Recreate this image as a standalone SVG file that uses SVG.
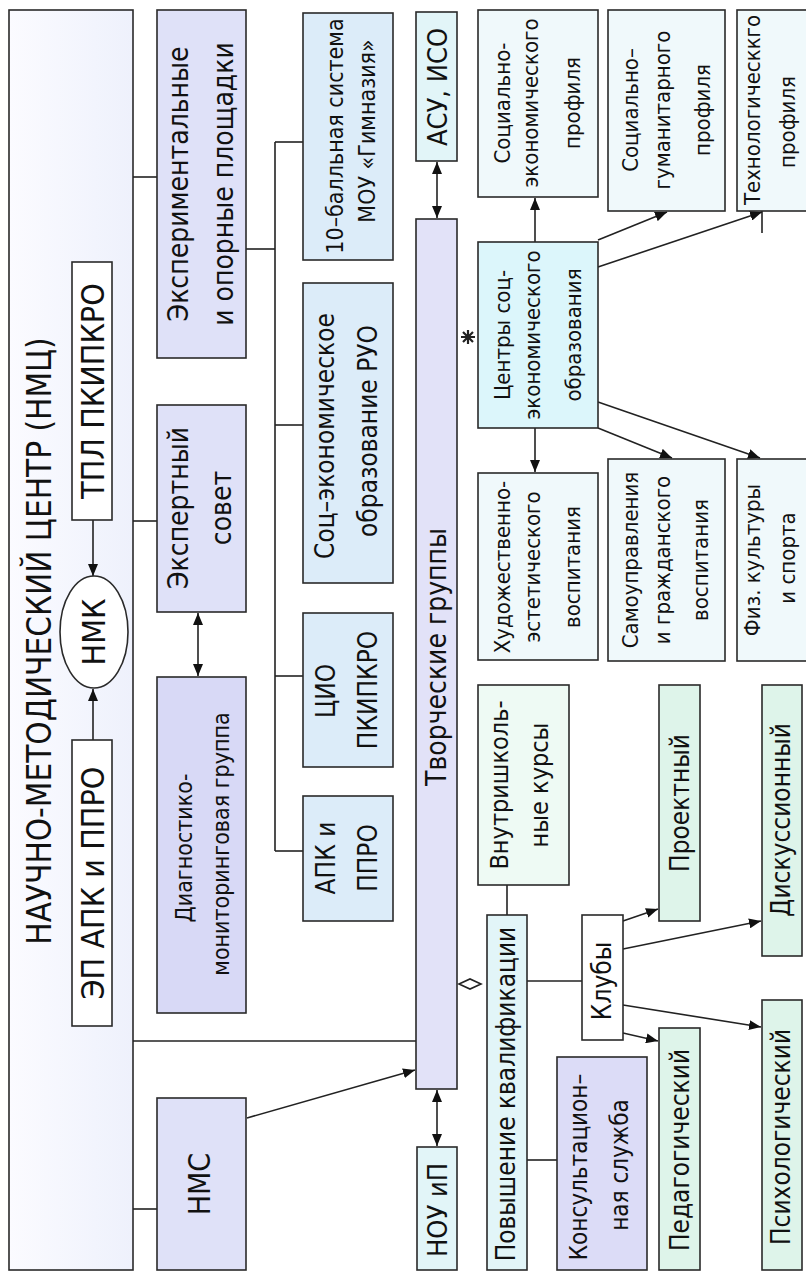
<svg xmlns="http://www.w3.org/2000/svg" width="806" height="1273" viewBox="0 0 806 1273">
<style>
.b{stroke:#2a2a2a;stroke-width:1.6}
.c{stroke:#222;stroke-width:1.6;fill:none}
.t{font-family:'DejaVu Sans Condensed','DejaVu Sans',sans-serif;text-anchor:middle;fill:#111}
.lav{fill:#dfe1f8}.dlav{fill:#d8d9f6}.lb{fill:#dcecf9}.cy{fill:#e2f5f8}.pl{fill:#f0f9fb}.cen{fill:#dcf6fb}.gr{fill:#def4ea}.lg{fill:#eefaf4}.wh{fill:#ffffff}
</style>
<defs>
<linearGradient id="g1" x1="0" y1="0" x2="1" y2="0"><stop offset="0" stop-color="#fbfbff"/><stop offset="1" stop-color="#eef1fc"/></linearGradient>
<marker id="ah" viewBox="0 0 12 10" refX="12" refY="5" markerWidth="12" markerHeight="10" markerUnits="userSpaceOnUse" orient="auto-start-reverse"><path d="M0,0L12,5L0,10z" fill="#111"/></marker>
</defs>
<rect width="806" height="1273" fill="#fff"/>
<g id="nmc"><rect class="b" x="9" y="10" width="124" height="1260" fill="url(#g1)"/>
<text class="t" font-size="33" transform="translate(51,641) rotate(-90)">НАУЧНО-МЕТОДИЧЕСКИЙ ЦЕНТР (НМЦ)</text></g>
<g id="connectors">
<line class="c" x1="133" y1="177" x2="157" y2="177"/>
<line class="c" x1="133" y1="521" x2="157" y2="521"/>
<line class="c" x1="133" y1="1041" x2="416" y2="1041"/>
<line class="c" x1="133" y1="1209" x2="157" y2="1209"/>
<line class="c" x1="246" y1="249" x2="275" y2="249"/>
<line class="c" x1="275" y1="142" x2="275" y2="851"/>
<line class="c" x1="275" y1="142" x2="303" y2="142"/>
<line class="c" x1="275" y1="425" x2="303" y2="425"/>
<line class="c" x1="275" y1="676" x2="303" y2="676"/>
<line class="c" x1="275" y1="851" x2="303" y2="851"/>
<line class="c" x1="507" y1="915" x2="507" y2="885"/>
<line class="c" x1="527" y1="981" x2="582" y2="981"/>
<line class="c" x1="527" y1="1160" x2="557" y2="1160"/>
<line class="c" x1="762" y1="211" x2="762" y2="233"/>
<line class="c" x1="93" y1="520" x2="93" y2="576" marker-end="url(#ah)"/>
<line class="c" x1="93" y1="740" x2="93" y2="689" marker-end="url(#ah)"/>
<line class="c" x1="198" y1="613" x2="198" y2="676" marker-start="url(#ah)" marker-end="url(#ah)"/>
<line class="c" x1="437" y1="162" x2="437" y2="218" marker-start="url(#ah)" marker-end="url(#ah)"/>
<line class="c" x1="437" y1="1090" x2="437" y2="1146" marker-start="url(#ah)" marker-end="url(#ah)"/>
<line class="c" x1="247" y1="1118" x2="415" y2="1070" marker-end="url(#ah)"/>
<line class="c" x1="535" y1="242" x2="535" y2="198" marker-end="url(#ah)"/>
<line class="c" x1="598" y1="240" x2="667" y2="212" marker-end="url(#ah)"/>
<line class="c" x1="598" y1="267" x2="762" y2="212" marker-end="url(#ah)"/>
<line class="c" x1="535" y1="428" x2="535" y2="472" marker-end="url(#ah)"/>
<line class="c" x1="598" y1="428" x2="672" y2="458" marker-end="url(#ah)"/>
<line class="c" x1="598" y1="402" x2="760" y2="458" marker-end="url(#ah)"/>
<line class="c" x1="623" y1="921" x2="658" y2="909" marker-end="url(#ah)"/>
<line class="c" x1="623" y1="949" x2="761" y2="921" marker-end="url(#ah)"/>
<line class="c" x1="623" y1="1005" x2="761" y2="1027" marker-end="url(#ah)"/>
<line class="c" x1="623" y1="1033" x2="658" y2="1041" marker-end="url(#ah)"/>
<path d="M461,337L475,337M468,330L468,344M463,332L473,342M473,332L463,342" stroke="#222" stroke-width="2.2" fill="none"/>
<circle cx="468" cy="337" r="2.5" fill="#222"/>
<path d="M459,984L470,979L481,984L470,989z" fill="#fff" stroke="#222" stroke-width="1.6"/>
</g>
<g id="tpl"><rect class="b wh" x="72" y="262" width="40" height="258"/>
<text class="t" font-size="32" transform="translate(104,391) rotate(-90)">ТПЛ ПКИПКРО</text></g>
<g id="ep"><rect class="b wh" x="72" y="740" width="40" height="286"/>
<text class="t" font-size="32" transform="translate(104,883) rotate(-90)">ЭП АПК и ППРО</text></g>
<g id="nmk"><ellipse class="b wh" cx="94" cy="632" rx="34" ry="56"/>
<text class="t" font-size="32" transform="translate(105,632) rotate(-90)">НМК</text></g>
<g id="exp"><rect class="b lav" x="157" y="10" width="89" height="348"/>
<text class="t" font-size="28" transform="translate(188,184) rotate(-90)">Экспериментальные</text>
<text class="t" font-size="28" transform="translate(233,184) rotate(-90)">и опорные площадки</text></g>
<g id="expert"><rect class="b lav" x="157" y="405" width="89" height="207"/>
<text class="t" font-size="28" transform="translate(188,508) rotate(-90)">Экспертный</text>
<text class="t" font-size="28" transform="translate(231,508) rotate(-90)">совет</text></g>
<g id="diag"><rect class="b dlav" x="157" y="677" width="89" height="336"/>
<text class="t" font-size="23" transform="translate(192,848) rotate(-90)">Диагностико-</text>
<text class="t" font-size="23" transform="translate(229,844) rotate(-90)">мониторинговая группа</text></g>
<g id="nms"><rect class="b lav" x="157" y="1098" width="89" height="172"/>
<text class="t" font-size="30" transform="translate(210,1184) rotate(-90)">НМС</text></g>
<g id="ball"><rect class="b lb" x="303" y="13" width="90" height="247"/>
<text class="t" font-size="23" transform="translate(343,136) rotate(-90)">10–балльная система</text>
<text class="t" font-size="23" transform="translate(375,131) rotate(-90)">МОУ «Гимназия»</text></g>
<g id="soc"><rect class="b lb" x="303" y="283" width="90" height="300"/>
<text class="t" font-size="26" transform="translate(334,436) rotate(-90)">Соц–экономическое</text>
<text class="t" font-size="26" transform="translate(377,431) rotate(-90)">образование РУО</text></g>
<g id="cio"><rect class="b lb" x="303" y="613" width="90" height="154"/>
<text class="t" font-size="26" transform="translate(335,691) rotate(-90)">ЦИО</text>
<text class="t" font-size="26" transform="translate(377,690) rotate(-90)">ПКИПКРО</text></g>
<g id="apk"><rect class="b lb" x="303" y="796" width="90" height="125"/>
<text class="t" font-size="26" transform="translate(335,858) rotate(-90)">АПК и</text>
<text class="t" font-size="26" transform="translate(377,858) rotate(-90)">ППРО</text></g>
<g id="asu"><rect class="b cy" x="416" y="12" width="41" height="149"/>
<text class="t" font-size="27" transform="translate(447,87) rotate(-90)">АСУ, ИСО</text></g>
<g id="tvor"><rect class="b" fill="#e2e2f8" x="416" y="219" width="41" height="870"/>
<text class="t" font-size="28" transform="translate(446,657) rotate(-90)">Творческие группы</text></g>
<g id="nou"><rect class="b cy" x="417" y="1147" width="40" height="123"/>
<text class="t" font-size="27" transform="translate(447,1210) rotate(-90)">НОУ иП</text></g>
<g id="pov"><rect class="b cy" x="487" y="915" width="40" height="355"/>
<text class="t" font-size="26" transform="translate(515,1094) rotate(-90)">Повышение квалификации</text></g>
<g id="vnutr"><rect class="b lg" x="478" y="685" width="91" height="200"/>
<text class="t" font-size="25" transform="translate(508,785) rotate(-90)">Внутришколь-</text>
<text class="t" font-size="25" transform="translate(548,785) rotate(-90)">ные курсы</text></g>
<g id="centry"><rect class="b cen" x="478" y="242" width="120" height="186"/>
<text class="t" font-size="22" transform="translate(510,335) rotate(-90)">Центры соц-</text>
<text class="t" font-size="22" transform="translate(540,335) rotate(-90)">экономического</text>
<text class="t" font-size="22" transform="translate(581,335) rotate(-90)">образования</text></g>
<g id="p1"><rect class="b pl" x="478" y="10" width="120" height="187"/>
<text class="t" font-size="22" transform="translate(510,103) rotate(-90)">Социально-</text>
<text class="t" font-size="22" transform="translate(538,103) rotate(-90)">экономического</text>
<text class="t" font-size="22" transform="translate(580,103) rotate(-90)">профиля</text></g>
<g id="p2"><rect class="b pl" x="608" y="10" width="117" height="201"/>
<text class="t" font-size="22" transform="translate(638,110) rotate(-90)">Социально–</text>
<text class="t" font-size="22" transform="translate(670,110) rotate(-90)">гуманитарного</text>
<text class="t" font-size="22" transform="translate(710,110) rotate(-90)">профиля</text></g>
<g id="p3"><rect class="b pl" x="737" y="10" width="72" height="201"/>
<text class="t" font-size="22" transform="translate(760,110) rotate(-90)">Технологическкго</text>
<text class="t" font-size="22" transform="translate(795,122) rotate(-90)">профиля</text></g>
<g id="hud"><rect class="b pl" x="478" y="473" width="120" height="187"/>
<text class="t" font-size="22" transform="translate(510,567) rotate(-90)">Художественно-</text>
<text class="t" font-size="22" transform="translate(540,567) rotate(-90)">эстетического</text>
<text class="t" font-size="22" transform="translate(580,567) rotate(-90)">воспитания</text></g>
<g id="samo"><rect class="b pl" x="608" y="459" width="117" height="202"/>
<text class="t" font-size="22" transform="translate(638,560) rotate(-90)">Самоуправления</text>
<text class="t" font-size="22" transform="translate(670,560) rotate(-90)">и гражданского</text>
<text class="t" font-size="22" transform="translate(708,560) rotate(-90)">воспитания</text></g>
<g id="fiz"><rect class="b pl" x="737" y="459" width="72" height="202"/>
<text class="t" font-size="22" transform="translate(760,560) rotate(-90)">Физ. культуры</text>
<text class="t" font-size="22" transform="translate(795,558) rotate(-90)">и спорта</text></g>
<g id="klub"><rect class="b wh" x="582" y="915" width="41" height="125"/>
<text class="t" font-size="26" transform="translate(611,981) rotate(-90)">Клубы</text></g>
<g id="kons"><rect class="b" fill="#dcdcf7" x="557" y="1057" width="90" height="213"/>
<text class="t" font-size="24" transform="translate(587,1167) rotate(-90)">Консультацион–</text>
<text class="t" font-size="24" transform="translate(628,1165) rotate(-90)">ная служба</text></g>
<g id="proekt"><rect class="b gr" x="659" y="685" width="41" height="236"/>
<text class="t" font-size="26" transform="translate(689,803) rotate(-90)">Проектный</text></g>
<g id="disk"><rect class="b gr" x="762" y="685" width="40" height="271"/>
<text class="t" font-size="26" transform="translate(790,820) rotate(-90)">Дискуссионный</text></g>
<g id="ped"><rect class="b gr" x="659" y="1028" width="41" height="242"/>
<text class="t" font-size="26" transform="translate(689,1150) rotate(-90)">Педагогический</text></g>
<g id="psih"><rect class="b gr" x="762" y="1000" width="40" height="270"/>
<text class="t" font-size="26" transform="translate(790,1137) rotate(-90)">Психологический</text></g>
</svg>
